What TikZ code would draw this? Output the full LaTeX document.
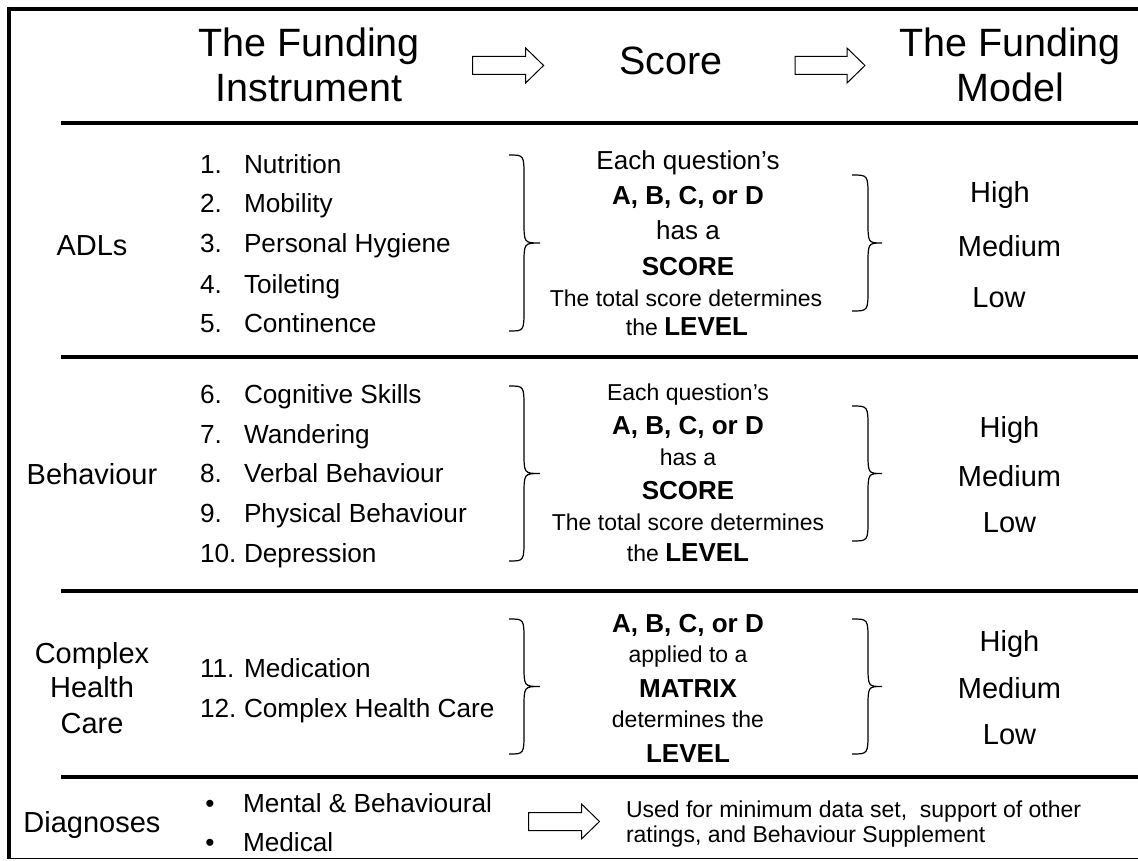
\documentclass[tikz,border=0pt]{standalone}
\usepackage{fontspec}
\setmainfont{Liberation Sans}
\newcommand\rbrc[5]{%
 \draw[brc] (#1,#4) .. controls (#2,#4) .. (#2,{#4+22})
   -- (#2,{(#4+#5)/2-22}) .. controls (#2,{(#4+#5)/2}) .. (#3,{(#4+#5)/2})
   .. controls (#2,{(#4+#5)/2}) .. (#2,{(#4+#5)/2+22})
   -- (#2,{#5-22}) .. controls (#2,#5) .. (#1,#5);}
\newcommand\blkarrow[3]{%
 \draw[blk] (#1,{#3-9}) -- ({#1+#2-18},{#3-9}) -- ({#1+#2-18},{#3-17.5}) -- ({#1+#2},#3)
   -- ({#1+#2-18},{#3+17.5}) -- ({#1+#2-18},{#3+9}) -- (#1,{#3+9}) -- cycle;}
\newcommand\bfbig[1]{{\fontsize{26}{30}\selectfont\bfseries #1}}
\begin{document}
\begin{tikzpicture}[x=1pt,y=-1pt,
  every node/.style={inner sep=0pt, outer sep=0pt},
  hdr/.style={font=\fontsize{39.5}{47}\selectfont, anchor=base},
  cat/.style={font=\fontsize{29}{35}\selectfont, anchor=base},
  itm/.style={font=\fontsize{26.2}{31}\selectfont, anchor=base west},
  mid/.style={font=\fontsize{23}{27}\selectfont, anchor=base},
  midl/.style={font=\fontsize{26}{30}\selectfont, anchor=base},
  midb/.style={font=\fontsize{26}{30}\selectfont\bfseries, anchor=base},
  lvl/.style={font=\fontsize{29}{34}\selectfont, anchor=base},
  dtx/.style={font=\fontsize{23}{27}\selectfont, anchor=base west},
  sep/.style={line width=3.5pt},
  brc/.style={line width=1.2pt},
  blk/.style={draw, line width=1pt}]
\useasboundingbox (0,0) rectangle (1138,861);
\fill[white] (0,0) rectangle (1138,861);
% border
\draw[line width=3.5pt] (9,858) -- (9,9) -- (1145,9);
\draw[line width=1.2pt] (7,858.5) -- (1145,858.5);
% header
\node[hdr] (h1a) at (309,57) {The Funding};
\node[hdr] (h1b) at (309,102) {Instrument};
\node[hdr] (h2) at (671,75) {Score};
\node[hdr] (h3a) at (1010,57) {The Funding};
\node[hdr] (h3b) at (1010,102) {Model};
\blkarrow{472.6}{71}{65.5}
\blkarrow{795}{70}{65.5}
% separators
\draw[sep] (61,123) -- (1145,123);
\draw[sep] (61,357) -- (1145,357);
\draw[sep] (61,591) -- (1145,591);
\draw[sep] (61,777) -- (1145,777);
% ADLs
\node[cat] (adl) at (92,255) {ADLs};
\node[itm] (n1) at (200,174) {1.};  \node[itm] (t1) at (244,174) {Nutrition};
\node[itm] (n2) at (200,213) {2.};  \node[itm] (t2) at (244,213) {Mobility};
\node[itm] (n3) at (200,253) {3.};  \node[itm] (t3) at (244,253) {Personal Hygiene};
\node[itm] (n4) at (200,293) {4.};  \node[itm] (t4) at (244,293) {Toileting};
\node[itm] (n5) at (200,332) {5.};  \node[itm] (t5) at (244,332) {Continence};
\rbrc{509}{524}{540}{155}{331}
\node[midl] (a1) at (688,169.5) {Each question’s};
\node[midb] (a2) at (688,205) {A, B, C, or D};
\node[midl] (a3) at (688,240) {has a};
\node[midb] (a4) at (688,275) {SCORE};
\node[mid] (a5) at (686,306.5) {The total score determines};
\node[mid] (a6) at (687,335.5) {the \bfbig{LEVEL}};
\rbrc{852}{868}{882}{175}{311}
\node[lvl] (ah) at (1000,203) {High};
\node[lvl] (am) at (1009.5,256) {Medium};
\node[lvl] (al) at (999,307) {Low};
% Behaviour
\node[cat] (beh) at (92,484) {Behaviour};
\node[itm] (n6) at (200,403) {6.};  \node[itm] (t6) at (244,403) {Cognitive Skills};
\node[itm] (n7) at (200,443) {7.};  \node[itm] (t7) at (244,443) {Wandering};
\node[itm] (n8) at (200,482) {8.};  \node[itm] (t8) at (244,482) {Verbal Behaviour};
\node[itm] (n9) at (200,522) {9.};  \node[itm] (t9) at (244,522) {Physical Behaviour};
\node[itm] (n10) at (200,562) {10.}; \node[itm] (t10) at (244,562) {Depression};
\rbrc{509}{524}{540}{386}{561}
\node[mid] (b1) at (688,400) {Each question’s};
\node[midb] (b2) at (688,434) {A, B, C, or D};
\node[mid] (b3) at (688,465) {has a};
\node[midb] (b4) at (688,499) {SCORE};
\node[mid] (b5) at (688,530) {The total score determines};
\node[mid] (b6) at (688,561) {the \bfbig{LEVEL}};
\rbrc{852}{868}{882}{406}{541}
\node[lvl] (bh) at (1009.5,437) {High};
\node[lvl] (bm) at (1009.5,486) {Medium};
\node[lvl] (bl) at (1009.5,532) {Low};
% Complex Health Care
\node[cat] (cx1) at (92,663) {Complex};
\node[cat] (cx2) at (92,697) {Health};
\node[cat] (cx3) at (92,733) {Care};
\node[itm] (n11) at (200,677) {11.}; \node[itm] (t11) at (244,677) {Medication};
\node[itm] (n12) at (200,717) {12.}; \node[itm] (t12) at (244,717) {Complex Health Care};
\rbrc{509}{524}{540}{619}{754}
\node[midb] (c1) at (688,632) {A, B, C, or D};
\node[mid] (c2) at (688,662) {applied to a};
\node[midb] (c3) at (688,697) {MATRIX};
\node[mid] (c4) at (688,727) {determines the};
\node[midb] (c5) at (688,762) {LEVEL};
\rbrc{852}{868}{882}{619}{754}
\node[lvl] (ch) at (1009.5,651) {High};
\node[lvl] (cm) at (1009.5,698) {Medium};
\node[lvl] (cl) at (1009.5,744) {Low};
% Diagnoses
\node[cat] (dg) at (92,832) {Diagnoses};
\node[itm, anchor=base] (bu1) at (210,812) {•};
\node[itm] (d1) at (243,812) {Mental \& Behavioural};
\node[itm, anchor=base] (bu2) at (210,851) {•};
\node[itm] (d2) at (243,851) {Medical};
\blkarrow{528.5}{71}{821.5}
\node[dtx] (u1) at (626,817) {Used for minimum data set,~ support of other};
\node[dtx] (u2) at (626,842) {ratings, and Behaviour Supplement};
\end{tikzpicture}
\end{document}
